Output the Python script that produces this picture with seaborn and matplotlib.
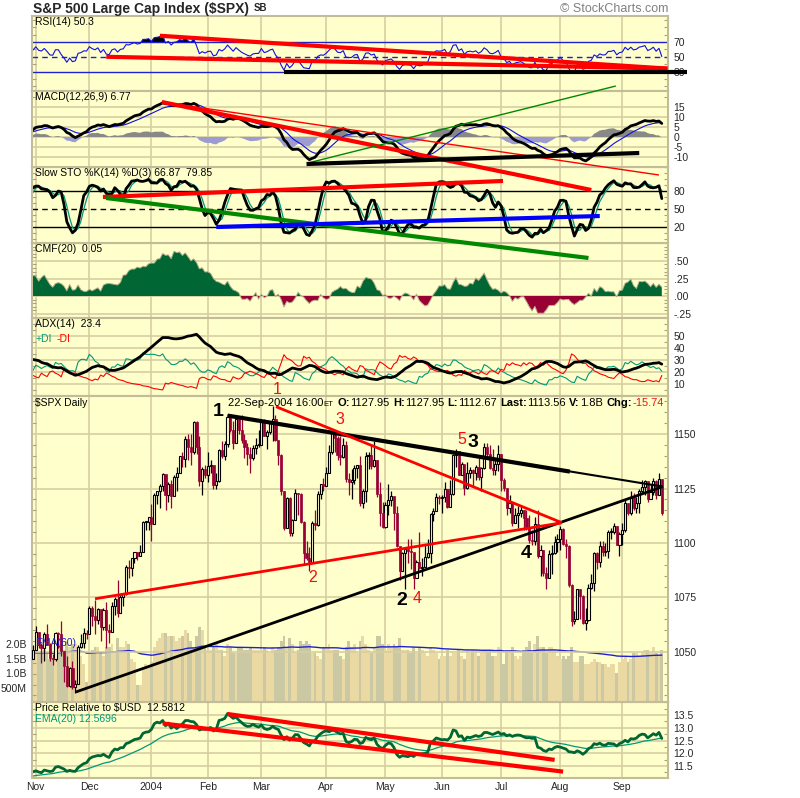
import numpy as np
import pandas as pd
import seaborn as sns
import matplotlib
matplotlib.use("Agg")
import matplotlib.pyplot as plt
from matplotlib.ticker import MultipleLocator

# warm-up sessions 18-Sep-2003 .. 30-Oct-2003 (only used to settle the indicators)
warm_close = [1039.6, 1036.3, 1022.8, 1029.0, 1009.4, 1003.3, 996.9, 1006.6, 996.0,
              1018.2, 1020.2, 1029.9, 1034.4, 1039.3, 1033.8, 1038.7, 1038.1, 1045.4, 1049.5, 1046.8,
              1050.1, 1039.3, 1044.7, 1046.0, 1030.4, 1033.8, 1028.9, 1031.1, 1046.8, 1048.1, 1046.9]
warm_high = [1040, 1040, 1036, 1030, 1030, 1011, 1003, 1007, 1007,
             1019, 1021, 1034, 1035, 1040, 1040, 1042, 1040, 1046, 1050, 1054,
             1051, 1051, 1045, 1049, 1046, 1036, 1034, 1038, 1047, 1049, 1050]
warm_low = [1026, 1030, 1018, 1020, 1008, 1002, 995, 997, 994,
            996, 1013, 1020, 1030, 1029, 1032, 1034, 1033, 1038, 1041, 1041,
            1046, 1036, 1037, 1042, 1029, 1025, 1018, 1029, 1031, 1042, 1043]
warm_vol = [1.7, 1.8, 1.5, 1.6, 1.8, 1.6, 1.5, 1.6, 1.9,
            1.8, 1.6, 1.7, 1.4, 1.6, 1.6, 1.7, 1.3, 1.4, 1.7, 1.8,
            1.8, 1.7, 1.5, 1.8, 1.9, 1.8, 1.7, 1.6, 1.9, 1.9, 1.8]
warm_usd = [95.6, 95.2, 94.0, 94.3, 94.6, 94.4, 94.0, 93.7, 93.9,
            93.4, 93.2, 93.8, 93.9, 93.6, 93.0, 93.3, 93.1, 93.8, 93.9, 94.2,
            94.6, 94.5, 94.1, 93.5, 93.2, 93.4, 93.4, 93.6, 93.5, 93.3, 93.4]

# shown sessions 31-Oct-2003 .. 22-Sep-2004
close = [1050.7,
         1059.0, 1053.3, 1052.0, 1058.1, 1053.2, 1047.1, 1046.6, 1058.5, 1058.4, 1050.4,
         1043.6, 1034.2, 1042.4, 1033.7, 1035.3, 1052.1, 1053.9, 1058.5, 1058.2,
         1070.1, 1066.6, 1064.7, 1069.7, 1061.5, 1069.3, 1060.2, 1059.1, 1071.2, 1074.1, 1068.0,
         1075.1, 1076.5, 1089.2, 1088.7, 1092.9, 1096.0, 1094.0, 1095.9, 1109.5, 1109.6, 1111.9,
         1108.5, 1122.2, 1123.7, 1126.3, 1131.9, 1121.9, 1127.2, 1121.8, 1130.5, 1132.1,
         1139.8, 1138.8, 1147.6, 1143.9, 1141.6, 1155.4, 1144.1, 1128.5, 1134.1, 1131.1,
         1135.3, 1136.0, 1126.5, 1128.6, 1142.8, 1139.8, 1145.5, 1157.8, 1152.1, 1145.8,
         1156.9, 1151.8, 1147.1, 1144.1, 1140.9, 1139.1, 1143.7, 1144.9, 1144.9,
         1156.0, 1149.1, 1151.0, 1154.9, 1156.9, 1147.2, 1140.6, 1123.9, 1106.8, 1120.6, 1104.5, 1110.7,
         1123.0, 1122.3, 1109.8, 1095.4, 1093.1, 1091.3, 1109.2, 1108.1, 1122.5, 1127.0, 1126.2,
         1132.2, 1141.8, 1150.6, 1148.2, 1140.5, 1139.3, 1145.2, 1129.4, 1128.2, 1128.8, 1134.6,
         1135.8, 1118.2, 1124.1, 1139.9, 1140.6, 1135.5, 1138.1, 1122.4, 1113.9, 1107.3,
         1117.5, 1119.6, 1121.5, 1114.0, 1098.7, 1087.1, 1095.5, 1097.3, 1096.4, 1095.7,
         1084.1, 1091.5, 1088.7, 1089.2, 1093.6, 1095.4, 1113.1, 1114.9, 1121.3, 1120.7,
         1121.2, 1125.0, 1116.6, 1122.5, 1140.4, 1142.2, 1131.3, 1136.5, 1125.3, 1132.0, 1133.6,
         1132.1, 1135.0, 1130.3, 1134.4, 1144.1, 1140.7, 1134.4, 1133.4, 1136.2, 1140.8,
         1128.9, 1125.4, 1116.2, 1118.3, 1109.1, 1112.8, 1114.0, 1115.0, 1111.5, 1106.7, 1101.4,
         1100.9, 1108.7, 1093.9, 1096.8, 1086.2, 1084.1, 1094.8, 1095.4, 1100.4, 1101.7,
         1106.6, 1099.7, 1098.6, 1080.7, 1064.0, 1065.2, 1079.0, 1075.8, 1063.2, 1064.8, 1079.3,
         1081.7, 1095.2, 1091.2, 1098.4, 1095.7, 1096.2, 1105.0, 1105.1, 1107.8, 1099.2, 1104.2,
         1105.9, 1118.3, 1113.6, 1121.3, 1116.3, 1118.4, 1123.9, 1125.8,
         1128.3, 1120.4, 1123.5, 1128.6, 1122.2, 1129.3, 1113.6]
high = [1053,
        1062, 1059, 1054, 1059, 1063, 1054, 1049, 1059, 1059, 1064,
        1050, 1048, 1043, 1046, 1037, 1053, 1058, 1061, 1060,
        1071, 1071, 1074, 1070, 1069, 1070, 1073, 1063, 1073, 1075, 1083,
        1076, 1077, 1090, 1092, 1093, 1096, 1096, 1099, 1110, 1110, 1112,
        1118, 1123, 1124, 1127, 1132, 1131, 1128, 1129, 1131, 1135,
        1140, 1142, 1149, 1150, 1150, 1156, 1156, 1149, 1135, 1136,
        1142, 1138, 1136, 1132, 1143, 1147, 1147, 1158, 1157, 1156,
        1158, 1157, 1159, 1150, 1146, 1144, 1145, 1148, 1152,
        1157, 1157, 1152, 1155, 1163, 1159, 1147, 1141, 1124, 1121, 1121, 1111,
        1125, 1123, 1123, 1110, 1101, 1098, 1110, 1115, 1124, 1127, 1130,
        1135, 1145, 1151, 1151, 1149, 1149, 1148, 1147, 1132, 1134, 1136,
        1136, 1140, 1125, 1142, 1142, 1145, 1147, 1138, 1128, 1119,
        1119, 1127, 1124, 1121, 1117, 1098, 1096, 1098, 1102, 1102,
        1095, 1092, 1105, 1093, 1099, 1102, 1114, 1116, 1123, 1122,
        1122, 1128, 1125, 1129, 1141, 1143, 1142, 1137, 1136, 1137, 1135,
        1134, 1136, 1139, 1135, 1146, 1146, 1145, 1143, 1138, 1145,
        1141, 1130, 1125, 1122, 1119, 1116, 1117, 1117, 1115, 1115, 1113,
        1106, 1112, 1115, 1099, 1097, 1089, 1097, 1099, 1103, 1104,
        1108, 1107, 1102, 1099, 1081, 1069, 1079, 1076, 1076, 1070, 1081,
        1086, 1096, 1096, 1101, 1101, 1100, 1106, 1107, 1109, 1108, 1105,
        1109, 1120, 1118, 1124, 1123, 1121, 1125, 1129,
        1129, 1128, 1127, 1130, 1129, 1132, 1128]
low = [1047,
       1051, 1052, 1045, 1046, 1053, 1046, 1044, 1046, 1052, 1048,
       1036, 1034, 1034, 1033, 1031, 1036, 1052, 1052, 1056,
       1058, 1062, 1058, 1063, 1055, 1060, 1052, 1054, 1059, 1067, 1066,
       1068, 1071, 1076, 1084, 1085, 1091, 1092, 1094, 1096, 1106, 1106,
       1101, 1109, 1118, 1116, 1124, 1115, 1119, 1116, 1122, 1124,
       1133, 1135, 1135, 1138, 1136, 1141, 1141, 1126, 1122, 1130,
       1128, 1132, 1125, 1125, 1128, 1139, 1138, 1144, 1151, 1143,
       1146, 1150, 1146, 1139, 1136, 1132, 1138, 1141, 1144,
       1145, 1149, 1143, 1150, 1147, 1147, 1136, 1122, 1106, 1107, 1103, 1103,
       1111, 1113, 1109, 1090, 1092, 1087, 1091, 1106, 1108, 1120, 1124,
       1126, 1132, 1141, 1142, 1138, 1136, 1139, 1128, 1122, 1120, 1127,
       1130, 1117, 1116, 1119, 1134, 1134, 1135, 1121, 1108, 1107,
       1107, 1113, 1117, 1106, 1098, 1083, 1087, 1079, 1091, 1088,
       1079, 1084, 1088, 1085, 1089, 1093, 1091, 1110, 1115, 1118,
       1114, 1119, 1116, 1117, 1122, 1135, 1131, 1131, 1122, 1125, 1130,
       1126, 1129, 1129, 1124, 1134, 1140, 1134, 1131, 1131, 1133,
       1124, 1124, 1113, 1114, 1108, 1109, 1107, 1112, 1106, 1106, 1100,
       1099, 1099, 1093, 1085, 1085, 1079, 1084, 1086, 1095, 1096,
       1097, 1099, 1093, 1080, 1062, 1063, 1065, 1065, 1063, 1060, 1064,
       1079, 1078, 1088, 1089, 1094, 1094, 1093, 1102, 1104, 1099, 1094,
       1099, 1105, 1113, 1113, 1115, 1114, 1114, 1123,
       1122, 1119, 1120, 1122, 1120, 1122, 1112.7]
# volume in billions of shares
vol = [1.9,
       1.7, 1.7, 1.7, 1.8, 1.7, 1.5, 1.5, 1.8, 1.9, 2.0, 1.8, 2.1, 1.9, 2.0, 2.0, 1.7, 1.6, 1.3, 0.7,
       1.7, 1.8, 1.9, 1.9, 1.7, 1.6, 1.9, 1.9, 2.0, 1.7, 2.2, 1.9, 1.9, 2.1, 2.0, 1.5, 1.4, 0.6, 0.6,
       1.2, 1.3, 1.2,
       1.4, 1.9, 2.1, 2.2, 2.4, 2.4, 2.3, 2.3, 2.3, 2.1, 2.2, 2.3, 2.5, 2.4, 2.1, 1.9, 2.3, 2.6, 2.5, 1.9,
       1.8, 1.8, 1.9, 2.0, 1.8, 1.8, 1.6, 2.0, 1.9, 1.7, 1.7, 1.9, 1.9, 1.8, 1.8, 1.9, 1.8, 1.8, 1.8,
       1.8, 1.9, 1.8, 1.7, 1.9, 1.8, 1.9, 2.1, 2.3, 1.9, 2.2, 2.0, 1.7, 1.8, 2.1, 2.0, 2.1, 2.0, 1.7,
       1.7, 1.6, 1.5, 1.9,
       1.9, 2.0, 1.8, 1.8, 1.8, 1.6, 1.5, 1.9, 2.1, 1.9, 2.0, 1.7, 2.1, 2.3, 2.0, 1.8, 1.7, 1.9, 2.3, 2.3, 2.0,
       1.8, 2.0, 1.9, 2.0, 1.9, 2.2, 1.8, 1.8, 1.8, 1.7, 1.9, 1.7, 1.9, 1.8, 1.7, 1.6, 1.9, 1.8, 1.7, 1.5,
       1.6, 1.6, 1.8, 1.6, 1.7, 1.7, 1.8, 1.6, 1.5, 1.8, 1.7, 1.8, 1.8, 1.6, 1.7, 1.8, 1.8, 1.8, 1.6, 1.6, 1.9,
       1.8, 1.3, 1.8, 1.8, 1.9, 1.6, 1.5, 1.6, 1.8, 1.9, 2.1, 1.7, 2.0, 2.3, 1.9, 1.9, 1.7, 1.9, 1.9, 1.8, 1.6,
       1.5, 1.6, 1.5, 1.6, 1.9, 1.4, 1.4, 1.6, 1.6, 1.3, 1.3, 1.4, 1.5, 1.4, 1.4, 1.3, 1.3, 1.2, 1.3, 1.3,
       1.0, 1.4,
       1.5, 1.6, 1.4, 1.5, 1.7, 1.7, 1.6, 1.7, 1.8, 1.8, 1.7, 1.9, 1.7, 1.6, 1.8]
# US dollar index, same sessions
usd = [93.2,
       93.6, 93.5, 93.6, 93.3, 93.1, 92.8, 92.6, 92.4, 92.2, 91.9, 91.7, 91.6, 92.0, 91.5, 91.7, 92.0,
       91.5, 91.3, 91.0,
       90.8, 90.0, 89.6, 89.8, 89.2, 89.4, 89.2, 89.5, 88.9, 88.3, 88.0, 88.0, 88.1, 88.0, 87.7, 87.6,
       87.4, 87.1, 87.0, 86.8, 86.5, 86.6,
       85.7, 85.3, 85.0, 85.4, 85.2, 85.8, 85.5, 86.4, 86.5, 87.3, 87.2, 86.6, 86.4, 86.1, 86.2, 87.3,
       87.2, 87.4, 87.6, 87.4,
       87.6, 87.3, 87.5, 87.2, 86.0, 85.6, 85.7, 85.4, 85.6, 85.7, 86.2, 86.6, 86.9, 87.3, 87.4, 87.2,
       87.1, 87.6, 87.9,
       88.2, 88.6, 89.0, 89.1, 88.6, 88.4, 88.2, 88.4, 88.3, 88.6, 88.3, 88.2, 88.2, 88.2, 88.3, 88.2,
       88.4, 88.8, 88.9, 88.7, 88.6, 88.3, 87.7,
       87.9, 88.9, 89.2, 89.1, 89.0, 89.3, 89.6, 90.6, 90.9, 90.6, 90.4, 90.6, 90.3, 90.5, 90.3, 90.8,
       90.6, 90.3, 90.9, 91.0, 90.9,
       90.8, 90.3, 90.6, 91.1, 91.9, 91.8, 92.0, 92.3, 92.4, 91.9, 91.3, 91.2, 91.0, 90.9, 91.2, 91.0,
       89.6, 89.3, 89.0, 89.2,
       89.5, 89.7, 89.2, 88.9, 88.3, 88.7, 89.4, 89.6, 90.0, 89.6, 89.9, 89.5, 89.4, 89.3, 89.4, 89.3,
       89.0, 88.8, 89.0, 88.9, 88.9,
       88.6, 88.1, 88.0, 87.9, 87.6, 87.6, 87.6, 87.8, 87.9, 87.8, 87.3, 87.5, 88.0, 89.4, 89.9, 89.7,
       89.8, 90.0, 90.2, 90.0, 89.8,
       90.4, 90.1, 90.3, 89.6, 88.3, 88.6, 89.2, 89.3, 88.9, 88.4, 88.6, 88.4, 88.5, 88.4, 88.6, 88.9,
       89.0, 89.2, 89.3, 89.6, 89.5, 89.2,
       89.0, 89.4, 89.5, 89.2, 88.9, 88.8, 88.5, 88.3, 88.6, 88.9, 88.6, 88.4, 88.3, 88.1, 88.51]

# first session of each month (index into the shown sessions)
month_idx = [1, 20, 42, 62, 81, 104, 125, 145, 166, 187, 209]
month_lbl = ["Nov", "Dec", "2004", "Feb", "Mar", "Apr", "May", "Jun", "Jul", "Aug", "Sep"]

# hand drawn trend lines: (session, value, session, value)
rsi_red = [(45, 78.5, 225, 34), (26, 50, 225, 34)]
rsi_black = [(89, 30, 232, 30)]
macd_red_thick = [(45.7, 17.5, 198, -26.5)]
macd_red_thin = [(45.7, 17.5, 222, -19)]
macd_green = [(97.5, -13, 206.7, 25.5)]
macd_black = [(97, -13.5, 215, -8)]
sto_red = [(24.8, 70, 166.7, 96.7)]
sto_green = [(25.9, 68.3, 197, -31.7)]
sto_blue = [(65, 20, 201, 38.3)]
px_black_thick = [(69, 1158.5, 190.4, 1132.8)]
px_black_thin = [(69, 1158.5, 223.4, 1125.9)]
px_black_mid = [(15.2, 1031.6, 223.4, 1125.9)]
px_red = [(86.2, 1162.6, 187.6, 1109.3), (22, 1074.4, 187.6, 1109.3)]
rel_red = [(69, 13.54, 185, 11.74), (46, 13.17, 188, 11.28)]

# wave counts written on the price chart
wave_black = [("1", 65.6, 1160.5), ("3", 156.2, 1146.0), ("4", 174.8, 1095.0), ("2", 130.8, 1073.4)]
wave_red = [("1", 86.5, 1170.5), ("3", 108.9, 1156.7), ("2", 99.3, 1084.0), ("5", 152.1, 1147.5),
            ("4", 136.2, 1074.6)]

sns.set_style("white")
plt.rcParams["font.family"] = ["Liberation Sans", "DejaVu Sans"]
plt.rcParams["font.size"] = 7.5

BG = "#FFFFCC"
GRID = "#D6CEA2"
EDGE = "#C2BC98"
MAROON = "#990033"
TEAL = "#009977"

C = pd.Series(warm_close + close, dtype=float)
H = pd.Series(warm_high + high, dtype=float)
L = pd.Series(warm_low + low, dtype=float)
V = pd.Series(warm_vol + vol, dtype=float)
U = pd.Series(warm_usd + usd, dtype=float)
nw = len(warm_close)
x = np.arange(len(close))


def shown(s):
    return s.iloc[nw:].to_numpy()


# RSI(14)
d = C.diff().fillna(0)
gain = d.clip(lower=0).ewm(alpha=1 / 14, adjust=False).mean()
loss = (-d.clip(upper=0)).ewm(alpha=1 / 14, adjust=False).mean()
rsi = shown(100 - 100 / (1 + gain / loss))

# MACD(12,26,9)
macd_s = C.ewm(span=12, adjust=False).mean() - C.ewm(span=26, adjust=False).mean()
sig_s = macd_s.ewm(span=9, adjust=False).mean()
macd = shown(macd_s)
sig = shown(sig_s)
hist = macd - sig

# slow stochastics
ll = L.rolling(14, min_periods=1).min()
hh = H.rolling(14, min_periods=1).max()
fast_k = 100 * (C - ll) / (hh - ll)
slow_k = fast_k.rolling(3, min_periods=1).mean()
slow_d = slow_k.rolling(3, min_periods=1).mean()
sk = shown(slow_k)
sd = shown(slow_d)

# CMF(20)
mfm = ((C - L) - (H - C)) / (H - L)
cmf = shown((mfm * V).rolling(20, min_periods=1).sum() / V.rolling(20, min_periods=1).sum())

# ADX(14)
upm = H.diff()
dnm = -L.diff()
pdm = upm.where((upm > dnm) & (upm > 0), 0.0).fillna(0)
mdm = dnm.where((dnm > upm) & (dnm > 0), 0.0).fillna(0)
pc = C.shift(1)
tr = pd.concat([H - L, (H - pc).abs(), (L - pc).abs()], axis=1).max(axis=1)
atr = tr.ewm(alpha=1 / 14, adjust=False).mean()
pdi_s = 100 * pdm.ewm(alpha=1 / 14, adjust=False).mean() / atr
mdi_s = 100 * mdm.ewm(alpha=1 / 14, adjust=False).mean() / atr
dx = 100 * (pdi_s - mdi_s).abs() / (pdi_s + mdi_s)
adx = shown(dx.ewm(alpha=1 / 14, adjust=False).mean())
pdi = shown(pdi_s)
mdi = shown(mdi_s)

vol_ema = shown(V.ewm(span=60).mean())
rel_s = C / U
rel = shown(rel_s)
rel_ema = shown(rel_s.ewm(span=20).mean())

cl = np.array(close)
hi = np.array(high)
lo = np.array(low)
op = shown(C.shift(1))
up = cl >= op

fig = plt.figure(figsize=(8, 7.98), dpi=100)
FW, FH = 800.0, 798.0
renderer = fig.canvas.get_renderer()


def panel(top, bot, z, face=BG):
    ax = fig.add_axes([32 / FW, 1 - bot / FH, 636 / FW, (bot - top) / FH], zorder=z)
    ax.set_facecolor(face)
    return ax


def finish(ax, ylim, ticks, labels, minor, ygrid=True, xgrid=True):
    ax.set_xlim(-0.35, 225.2)
    ax.set_ylim(*ylim)
    ax.set_xlabel("")
    ax.set_ylabel("")
    ax.yaxis.tick_right()
    ax.set_yticks(ticks)
    ax.set_yticklabels(labels)
    ax.tick_params(axis="y", which="major", length=0, pad=4, labelsize=7.5)
    ax.yaxis.set_minor_locator(MultipleLocator(minor))
    ax.tick_params(axis="y", which="minor", direction="in", left=True, right=True,
                   length=3, width=0.8, color="#A8A280")
    ax.set_xticks(month_idx)
    ax.tick_params(axis="x", length=0, labelbottom=False)
    ax.grid(False)
    if xgrid:
        ax.grid(axis="x", color=GRID, lw=1.2)
    if ygrid:
        ax.grid(axis="y", which="major", color=GRID, lw=1.2)
    ax.set_axisbelow(True)
    for s in ax.spines.values():
        s.set_color(EDGE)
        s.set_linewidth(1.5)


def trend(ax, segs, color, lw):
    for x0, y0, x1, y1 in segs:
        ax.plot([x0, x1], [y0, y1], color=color, lw=lw, clip_on=False,
                solid_capstyle="butt", zorder=6)


def label(ax, y, text, color="black"):
    ax.text(0.005, y, text, transform=ax.transAxes, va="top", ha="left",
            fontsize=7.5, color=color, zorder=7)


# RSI
ax_rsi = panel(16, 91, 1)
ax_rsi.axhline(70, color="#2020D0", lw=1)
ax_rsi.axhline(30, color="#2020D0", lw=1)
ax_rsi.axhline(50, color="#2020D0", lw=1, ls=(0, (4, 3)))
ax_rsi.fill_between(x, rsi, 70, where=rsi > 70, color="black", interpolate=True, lw=0)
ax_rsi.fill_between(x, rsi, 30, where=rsi < 30, color="black", interpolate=True, lw=0)
sns.lineplot(x=x, y=rsi, ax=ax_rsi, color="#1010E0", linewidth=0.8, errorbar=None)
trend(ax_rsi, rsi_red, "#FF0000", 3)
trend(ax_rsi, rsi_black, "black", 3)
finish(ax_rsi, (3.6, 105.3), [70, 50, 30], ["70", "50", "30"], 10, ygrid=False)
label(ax_rsi, 0.99, "RSI(14) 50.3")

# MACD
ax_macd = panel(91, 167, 6)
ax_macd.fill_between(x, hist, 0, where=hist >= 0, color="#888888", interpolate=True, lw=0)
ax_macd.fill_between(x, hist, 0, where=hist < 0, color="#9C9CD0", interpolate=True, lw=0)
sns.lineplot(x=x, y=sig, ax=ax_macd, color="#1010E0", linewidth=0.8, errorbar=None)
sns.lineplot(x=x, y=macd, ax=ax_macd, color="black", linewidth=2, errorbar=None)
trend(ax_macd, macd_red_thick, "#FF0000", 3)
trend(ax_macd, macd_red_thin, "#FF0000", 1)
trend(ax_macd, macd_green, "#008800", 1)
trend(ax_macd, macd_black, "black", 3)
finish(ax_macd, (-15, 23), [15, 10, 5, 0, -5, -10], ["15", "10", "5", "0", "-5", "-10"], 5)
label(ax_macd, 0.99, "MACD(12,26,9) 6.77")

# Slow stochastics
ax_sto = panel(167, 243, 5)
ax_sto.axhline(80, color="black", lw=1)
ax_sto.axhline(20, color="black", lw=1)
ax_sto.axhline(50, color="black", lw=1, ls=(0, (4, 3)))
sns.lineplot(x=x, y=sd, ax=ax_sto, color=TEAL, linewidth=0.9, errorbar=None)
sns.lineplot(x=x, y=sk, ax=ax_sto, color="black", linewidth=2, errorbar=None)
trend(ax_sto, sto_red, "#FF0000", 3)
trend(ax_sto, sto_green, "#008800", 3)
trend(ax_sto, sto_blue, "#0000FF", 3)
finish(ax_sto, (-6.7, 120), [80, 50, 20], ["80", "50", "20"], 10, ygrid=False)
label(ax_sto, 0.99, "Slow STO %K(14) %D(3) 66.87  79.85")

# CMF
ax_cmf = panel(243, 318, 2)
ax_cmf.fill_between(x, cmf, 0, where=cmf >= 0, color="#006633", interpolate=True, lw=0)
ax_cmf.fill_between(x, cmf, 0, where=cmf < 0, color=MAROON, interpolate=True, lw=0)
sns.lineplot(x=x, y=cmf, ax=ax_cmf, color="#B8AE8C", linewidth=0.7, errorbar=None)
finish(ax_cmf, (-0.314, 0.757), [0.5, 0.25, 0.0, -0.25], [".50", ".25", ".00", "-.25"], 0.05)
label(ax_cmf, 0.99, "CMF(20)  0.05")

# ADX
ax_adx = panel(318, 396, 3)
sns.lineplot(x=x, y=pdi, ax=ax_adx, color=TEAL, linewidth=0.8, errorbar=None)
sns.lineplot(x=x, y=mdi, ax=ax_adx, color="#FF0000", linewidth=0.8, errorbar=None)
sns.lineplot(x=x, y=adx, ax=ax_adx, color="black", linewidth=2, errorbar=None)
finish(ax_adx, (0, 65), [50, 40, 30, 20, 10], ["50", "40", "30", "20", "10"], 5)
label(ax_adx, 0.99, "ADX(14)  23.4")
ax_adx.text(0.005, 0.80, "+DI", transform=ax_adx.transAxes, va="top", color=TEAL, fontsize=7.5)
ax_adx.text(0.038, 0.80, "-DI", transform=ax_adx.transAxes, va="top", color="#FF0000", fontsize=7.5)

# volume behind the price bars
ax_vol = panel(396, 702, 3.5)
vcol = np.where(up, "#EAD9A2", "#CBC8A4")
ax_vol.bar(x, vol, width=1.0, color=vcol, lw=0)
sns.lineplot(x=x, y=vol_ema, ax=ax_vol, color="#2020D0", linewidth=1, errorbar=None)
ax_vol.set_xlim(-0.35, 225.2)
ax_vol.set_ylim(0, 10.6)
ax_vol.set_xlabel("")
ax_vol.set_ylabel("")
ax_vol.set_xticks(month_idx)
ax_vol.tick_params(axis="x", length=0, labelbottom=False)
ax_vol.grid(False)
ax_vol.grid(axis="x", color=GRID, lw=1.2)
ax_vol.set_axisbelow(True)
ax_vol.set_yticks([0.5, 1.0, 1.5, 2.0])
ax_vol.set_yticklabels(["500M", "1.0B", "1.5B", "2.0B"])
ax_vol.tick_params(axis="y", direction="out", length=3, width=0.8, pad=1, labelsize=7.5)
for s in ax_vol.spines.values():
    s.set_visible(False)

# price candles
ax_px = panel(396, 702, 4, face="none")
ax_px.vlines(x[up], lo[up], hi[up], color="black", lw=0.9, zorder=3)
ax_px.vlines(x[~up], lo[~up], hi[~up], color=MAROON, lw=0.9, zorder=3)
body_bot = np.minimum(op, cl)
body_h = np.maximum(np.abs(cl - op), 0.4)
ax_px.bar(x[up], body_h[up], bottom=body_bot[up], width=0.75, facecolor=BG,
          edgecolor="black", lw=0.8, zorder=4)
ax_px.bar(x[~up], body_h[~up], bottom=body_bot[~up], width=0.75, facecolor=MAROON,
          edgecolor=MAROON, lw=0.5, zorder=4)
trend(ax_px, px_black_thick, "black", 3)
trend(ax_px, px_black_thin, "black", 1.5)
trend(ax_px, px_black_mid, "black", 2)
trend(ax_px, px_red, "#FF0000", 2)
for t, xi, yi in wave_black:
    ax_px.text(xi, yi, t, color="black", fontsize=14, fontweight="bold",
               ha="center", va="center", zorder=7, clip_on=False)
for t, xi, yi in wave_red:
    ax_px.text(xi, yi, t, color="#EE1111", fontsize=11.5,
               ha="center", va="center", zorder=7, clip_on=False)
finish(ax_px, (1027, 1167.5), [1150, 1125, 1100, 1075, 1050],
       ["1150", "1125", "1100", "1075", "1050"], 5, xgrid=False)
ax_px.patch.set_visible(False)
label(ax_px, 0.995, "$SPX Daily")
ax_px.text(0.005, 0.21, "EMA(60)", transform=ax_px.transAxes, color="#2020D0",
           fontsize=7.5, va="top", zorder=7)

# price relative to the dollar
ax_rel = panel(702, 778, 1)
sns.lineplot(x=x, y=rel_ema, ax=ax_rel, color=TEAL, linewidth=0.9, errorbar=None)
sns.lineplot(x=x, y=rel, ax=ax_rel, color="#006633", linewidth=2, errorbar=None)
trend(ax_rel, rel_red, "#FF0000", 3)
finish(ax_rel, (11.03, 14.01), [13.5, 13.0, 12.5, 12.0, 11.5],
       ["13.5", "13.0", "12.5", "12.0", "11.5"], 0.25)
ax_rel.tick_params(axis="x", labelbottom=True, length=0, pad=3, labelsize=7.5)
ax_rel.set_xticklabels(month_lbl)
label(ax_rel, 0.99, "Price Relative to $USD  12.5812")
label(ax_rel, 0.84, "EMA(20) 12.5696", color=TEAL)

title = fig.text(33 / FW, 1 - 9 / FH, "S&P 500 Large Cap Index ($SPX)", fontsize=10,
                 fontweight="bold", va="center", ha="left")
t_end = title.get_window_extent(renderer=renderer).x1
fig.text((t_end + 5) / FW, 1 - 8 / FH, "SB", fontsize=7, fontweight="bold", va="center", ha="left")
fig.text(668 / FW, 1 - 9 / FH, "\u00a9 StockCharts.com", fontsize=9, color="#808080",
         va="center", ha="right")

# quote line at the top of the price panel, laid out piece by piece
pieces = [("22-Sep-2004 16:00", "normal", 8, "black", 0), ("ET", "normal", 5.5, "black", 0),
          ("O:", "bold", 8, "black", 4), ("1127.95", "normal", 8, "black", 0),
          ("H:", "bold", 8, "black", 3), ("1127.95", "normal", 8, "black", 0),
          ("L:", "bold", 8, "black", 3), ("1112.67", "normal", 8, "black", 0),
          ("Last:", "bold", 8, "black", 3), ("1113.56", "normal", 8, "black", 0),
          ("V:", "bold", 8, "black", 3), ("1.8B", "normal", 8, "black", 0),
          ("Chg:", "bold", 8, "black", 3), ("-15.74", "normal", 8, "#EE1111", 0)]
xpix = 228.0
for txt, w, s, c, gap in pieces:
    xpix += gap
    t = fig.text(xpix / FW, 1 - 405.5 / FH, txt, fontweight=w, fontsize=s, color=c,
                 va="baseline", ha="left", zorder=10)
    xpix = t.get_window_extent(renderer=renderer).x1 + 0.3

fig.savefig("out.png", dpi=100, facecolor="white")
